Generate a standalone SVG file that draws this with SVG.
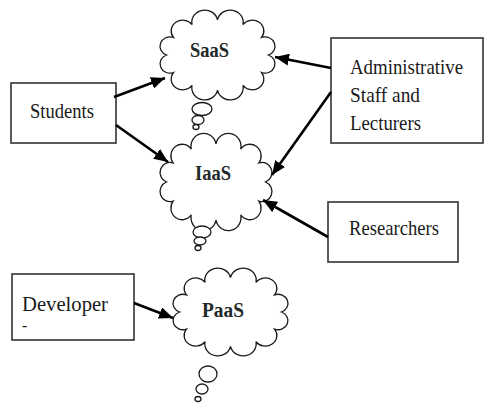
<svg xmlns="http://www.w3.org/2000/svg" xmlns:xlink="http://www.w3.org/1999/xlink" width="487" height="405" viewBox="0 0 487 405">
<style>
  .box { fill: #ffffff; stroke: #333333; stroke-width: 1.6; }
  .cloud { fill: #ffffff; stroke: #1a1a1a; stroke-width: 1.3; vector-effect: non-scaling-stroke; }
  .bub { fill: #ffffff; stroke: #1a1a1a; stroke-width: 1.3; }
  .lbl { font-family: "Liberation Serif", "Times New Roman", serif; font-size: 22px; fill: #1a1a1a; }
  .clbl { font-family: "Liberation Serif", "Times New Roman", serif; font-size: 20px; font-weight: bold; fill: #1f2a2a; }
  .conn { fill: none; stroke: #000000; stroke-width: 2.6; }
</style>
<defs>
  <path id="cloudShape" class="cloud" d="M 46 0 A 1 1 0 0 1 39.84 17 A 1 1 0 0 1 23 29.44 A 1 1 0 0 1 0 34 A 1 1 0 0 1 -23 29.44 A 1 1 0 0 1 -39.84 17 A 1 1 0 0 1 -46 0 A 1 1 0 0 1 -39.84 -17 A 1 1 0 0 1 -23 -29.44 A 1 1 0 0 1 0 -34 A 1 1 0 0 1 23 -29.44 A 1 1 0 0 1 39.84 -17 A 1 1 0 0 1 46 0 Z"/>
  <marker id="arrow" markerUnits="userSpaceOnUse" markerWidth="16" markerHeight="12" refX="14" refY="6" orient="auto">
    <path d="M 0 0 L 14 6 L 0 12 Z" fill="#000000"/>
  </marker>
</defs>
<rect width="487" height="405" fill="#ffffff"/>

<g id="saas">
  <use xlink:href="#cloudShape" href="#cloudShape" transform="translate(217.5,55) scale(1.106,1.034)"/>
  <ellipse class="bub" cx="202" cy="109" rx="10" ry="6.5"/>
  <ellipse class="bub" cx="198" cy="120" rx="6" ry="4.5"/>
  <ellipse class="bub" cx="196" cy="127" rx="3" ry="2.5"/>
  <text class="clbl" x="190" y="57" textLength="39" lengthAdjust="spacingAndGlyphs">SaaS</text>
</g>

<g id="iaas">
  <use xlink:href="#cloudShape" href="#cloudShape" transform="translate(216,182) scale(1.077,1.12)"/>
  <ellipse class="bub" cx="202" cy="232" rx="9" ry="6"/>
  <ellipse class="bub" cx="200" cy="241" rx="6" ry="4"/>
  <ellipse class="bub" cx="198" cy="248" rx="3" ry="2.5"/>
  <text class="clbl" x="195" y="180" textLength="36" lengthAdjust="spacingAndGlyphs">IaaS</text>
</g>

<g id="paas">
  <use xlink:href="#cloudShape" href="#cloudShape" transform="translate(230.5,312) scale(1.106,1.01)"/>
  <ellipse class="bub" cx="208" cy="374" rx="9" ry="8"/>
  <ellipse class="bub" cx="202" cy="389" rx="6" ry="5"/>
  <ellipse class="bub" cx="198" cy="399" rx="3" ry="2.5"/>
  <text class="clbl" x="202" y="317" textLength="42" lengthAdjust="spacingAndGlyphs">PaaS</text>
</g>

<g id="students">
  <rect class="box" x="11" y="83" width="105" height="60"/>
  <text class="lbl" x="30" y="118" textLength="64" lengthAdjust="spacingAndGlyphs">Students</text>
</g>

<g id="admin">
  <rect class="box" x="331" y="38" width="152" height="105"/>
  <text class="lbl" x="350" y="74" textLength="113" lengthAdjust="spacingAndGlyphs">Administrative</text>
  <text class="lbl" x="350" y="102" textLength="70" lengthAdjust="spacingAndGlyphs">Staff and</text>
  <text class="lbl" x="350" y="130" textLength="71" lengthAdjust="spacingAndGlyphs">Lecturers</text>
</g>

<g id="researchers">
  <rect class="box" x="328" y="202" width="130" height="60"/>
  <text class="lbl" x="349" y="235" textLength="90" lengthAdjust="spacingAndGlyphs">Researchers</text>
</g>

<g id="developer">
  <rect class="box" x="12" y="274" width="122" height="66"/>
  <text class="lbl" x="22" y="311" textLength="86" lengthAdjust="spacingAndGlyphs">Developer</text>
  <text class="lbl" x="22" y="331" style="font-size:16px">-</text>
</g>

<g id="connectors">
  <path class="conn" d="M 114 97 L 165 78" marker-end="url(#arrow)"/>
  <path class="conn" d="M 116 125 L 168 162" marker-end="url(#arrow)"/>
  <path class="conn" d="M 331 68 L 275 57" marker-end="url(#arrow)"/>
  <path class="conn" d="M 331 92 L 272 175" marker-end="url(#arrow)"/>
  <path class="conn" d="M 328 237 L 263 200" marker-end="url(#arrow)"/>
  <path class="conn" d="M 134 303 L 173 318" marker-end="url(#arrow)"/>
</g>
</svg>
